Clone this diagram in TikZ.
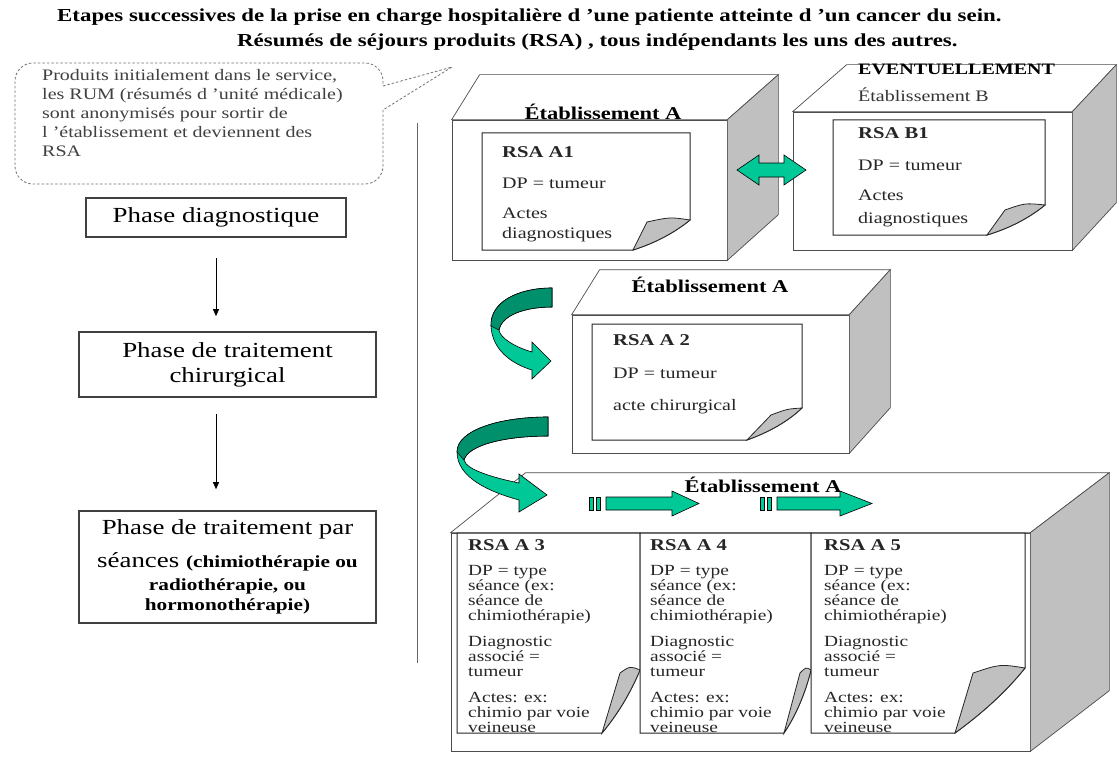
\documentclass[tikz,border=0pt]{standalone}
\usepackage{fontspec}
\setmainfont{Liberation Serif}[FakeStretch=1.25]
\usetikzlibrary{arrows.meta}
\definecolor{vertclair}{RGB}{0,200,150}
\definecolor{vertfonce}{RGB}{0,145,108}
\definecolor{cotegris}{RGB}{192,192,192}
\begin{document}
\begin{tikzpicture}[x=1pt, y=-1pt,
  phase/.style={draw=black!75, line width=1.6pt, align=center, inner sep=0pt, font=\fontsize{21.5}{25}\selectfont},
  face/.style={draw=black!70, line width=0.7pt, fill=white, inner sep=0pt},
  cote/.style={draw=black!70, line width=0.7pt, fill=cotegris},
  page/.style={draw=black!85, line width=1pt, fill=white},
  pli/.style={draw=black!85, line width=0.8pt, fill=cotegris},
  fleche/.style={draw=black, line width=0.6pt, fill=vertclair},
  txt/.style={inner sep=0pt, anchor=north west, align=left, text=black!85},
  etab/.style={inner sep=0pt, font=\fontsize{18}{20}\selectfont\bfseries},
  >={Triangle[width=6pt,length=7pt]}
]
\fill[white] (0,0) rectangle (1119,773);
\useasboundingbox (0,0) rectangle (1119,773);

% titre
\node[inner sep=0pt, anchor=west, font=\fontsize{18.3}{22}\selectfont\bfseries] (titre1) at (57,17) {Etapes successives de la prise en charge hospitalière d ’une patiente atteinte d ’un cancer du sein.};
\node[inner sep=0pt, anchor=west, font=\fontsize{18.3}{22}\selectfont\bfseries] (titre2) at (237,42) {Résumés de séjours produits (RSA) , tous indépendants les uns des autres.};

% bulle
\draw[black!55, line width=0.8pt, dash pattern=on 2.5pt off 2pt, rounded corners=18pt] (383,110) -- (383,184) -- (15,184) -- (15,63) -- (383,63) -- (383,86);
\draw[black!55, line width=0.8pt, dash pattern=on 2.5pt off 2pt] (383,86) -- (452,67) -- (383,110);
\node[txt, text=black!75, font=\fontsize{16}{19}\selectfont] (bulle) at (42,69) {Produits initialement dans le service,\\les RUM (résumés d ’unité médicale)\\sont anonymisés pour sortir de\\l ’établissement et deviennent des\\RSA};

% phases
\node[phase, minimum width=260pt, minimum height=39pt] (phase1) at (216,217.5) {Phase diagnostique};
\node[phase, minimum width=297pt, minimum height=65pt] (phase2) at (227.5,364.5) {Phase de traitement\\chirurgical};
\node[phase, minimum width=297pt, minimum height=112pt] (phase3) at (227.5,567) {Phase de traitement par\\[8pt]séances  {\fontsize{17}{20}\selectfont\bfseries(chimiothérapie ou}\\[-2pt]{\fontsize{17}{20}\selectfont\bfseries radiothérapie, ou}\\[-5pt]{\fontsize{17}{20}\selectfont\bfseries hormonothérapie)}};
\draw[->, line width=0.7pt, shorten <=20pt, shorten >=15pt] (phase1.south) -- (phase1.south |- phase2.north);
\draw[->, line width=0.7pt, shorten <=16pt, shorten >=21pt] (phase1.south |- phase2.south) -- (phase1.south |- phase3.north);

\draw[black!60, line width=0.8pt] (417,123) -- (417,663);

% etablissement A (diagnostic)
\node[face, minimum width=275pt, minimum height=140pt] (etabA1) at (589.5,190) {};
\draw[face] (etabA1.north west) -- ++(28,-45) -- ([xshift=51pt,yshift=45pt]etabA1.north east) -- (etabA1.north east) -- cycle;
\draw[cote] (etabA1.north east) -- ++(51,-45) -- ++(0,140) -- (etabA1.south east) -- cycle;
\node[etab] (labA1) at (603,112) {Établissement A};
\draw[page] (482,133) -- (690,133) -- (690,220) .. controls (674,233) and (655,243) .. (633,250) -- (482,250) -- cycle;
\draw[pli] (690,220) .. controls (674,233) and (655,243) .. (633,250) -- (647,222) .. controls (670,217) .. (690,220) -- cycle;
\node[txt, font=\fontsize{16}{20}\selectfont] (rsaA1) at (502,146.5) {{\fontsize{16.5}{20}\selectfont\bfseries RSA A1}\\[11pt]DP = tumeur\\[10pt]Actes\\diagnostiques};

% etablissement B
\node[face, minimum width=279pt, minimum height=138pt] (etabB) at (932.5,181) {};
\draw[face] (etabB.north west) -- ++(54,-47) -- ([xshift=44pt,yshift=47pt]etabB.north east) -- (etabB.north east) -- cycle;
\draw[cote] (etabB.north east) -- ++(44,-47) -- ++(0,138) -- (etabB.south east) -- cycle;
\node[inner sep=0pt, anchor=west, font=\fontsize{16}{18}\selectfont\bfseries] (eventuel) at (858,69) {EVENTUELLEMENT};
\node[inner sep=0pt, anchor=west, text=black!80, font=\fontsize{16}{18}\selectfont] (labB) at (858,95) {Établissement B};
\draw[page] (833,120) -- (1045,120) -- (1045,205) .. controls (1029,218) and (1010,228) .. (987,235) -- (833,235) -- cycle;
\draw[pli] (1045,205) .. controls (1029,218) and (1010,228) .. (987,235) -- (1005,210) .. controls (1025,203) .. (1045,205) -- cycle;
\node[txt, font=\fontsize{16}{22}\selectfont] (rsaB1) at (858,127.5) {{\fontsize{16.5}{20}\selectfont\bfseries RSA B1}\\[10pt]DP = tumeur\\[8pt]Actes\\[1pt]diagnostiques};

\draw[fleche] (737,170) -- (759,155) -- (759,163) -- (784,163) -- (784,155) -- (806,170) -- (784,185) -- (784,177) -- (759,177) -- (759,185) -- cycle;

% etablissement A (chirurgie)
\node[face, minimum width=277pt, minimum height=138pt] (etabA2) at (710.5,384) {};
\draw[face] (etabA2.north west) -- ++(28,-45) -- ([xshift=41pt,yshift=45pt]etabA2.north east) -- (etabA2.north east) -- cycle;
\draw[cote] (etabA2.north east) -- ++(41,-45) -- ++(0,138) -- (etabA2.south east) -- cycle;
\node[etab] (labA2) at (710,285) {Établissement A};
\draw[page] (592,324) -- (802,324) -- (802,408) .. controls (787,422) and (769,432) .. (747,440) -- (592,440) -- cycle;
\draw[pli] (802,408) .. controls (787,422) and (769,432) .. (747,440) -- (771,415) .. controls (787,409) .. (802,408) -- cycle;
\node[txt, font=\fontsize{16}{22}\selectfont] (rsaA2) at (613,334) {{\fontsize{16.5}{20}\selectfont\bfseries RSA A 2}\\[11pt]DP = tumeur\\[10pt]acte chirurgical};

% etablissement A (seances)
\node[face, minimum width=579pt, minimum height=218pt] (etabA3) at (740.5,642) {};
\draw[face] (etabA3.north west) -- ++(75,-60) -- ([xshift=79pt,yshift=60pt]etabA3.north east) -- (etabA3.north east) -- cycle;
\draw[cote] (etabA3.north east) -- ++(79,-60) -- ++(0,218) -- (etabA3.south east) -- cycle;
\node[etab] (labA3) at (763,485) {Établissement A};
\draw[page] (457,533) -- (640,533) -- (640,670) .. controls (630,694) and (617,715) .. (602,733) -- (457,733) -- cycle;
\draw[pli] (640,670) .. controls (630,694) and (617,715) .. (602,733) -- (620,673) .. controls (630,666) .. (640,670) -- cycle;
\draw[page] (640,533) -- (811,533) -- (811,670) .. controls (805,694) and (796,715) .. (784,733) -- (640,733) -- cycle;
\draw[pli] (811,670) .. controls (805,694) and (796,715) .. (784,733) -- (800,673) .. controls (806,667) .. (811,670) -- cycle;
\draw[page] (811,533) -- (1025,533) -- (1025,668) .. controls (1005,693) and (981,714) .. (955,733) -- (811,733) -- cycle;
\draw[pli] (1025,668) .. controls (1005,693) and (981,714) .. (955,733) -- (973,673) .. controls (1000,664) .. (1025,668) -- cycle;
\node[txt, font=\fontsize{15.5}{15}\selectfont] (rsaA3) at (468,539.5) {{\fontsize{16.5}{20}\selectfont\bfseries RSA A 3}\\[9.5pt]DP = type\\séance (ex:\\séance de\\chimiothérapie)\\[11pt]Diagnostic\\associé =\\tumeur\\[11pt]Actes: ex:\\chimio par voie\\veineuse};
\node[txt, font=\fontsize{15.5}{15}\selectfont] (rsaA4) at (650,539.5) {{\fontsize{16.5}{20}\selectfont\bfseries RSA A 4}\\[9.5pt]DP = type\\séance (ex:\\séance de\\chimiothérapie)\\[11pt]Diagnostic\\associé =\\tumeur\\[11pt]Actes: ex:\\chimio par voie\\veineuse};
\node[txt, font=\fontsize{15.5}{15}\selectfont] (rsaA5) at (824,539.5) {{\fontsize{16.5}{20}\selectfont\bfseries RSA A 5}\\[9.5pt]DP = type\\séance (ex:\\séance de\\chimiothérapie)\\[11pt]Diagnostic\\associé =\\tumeur\\[11pt]Actes: ex:\\chimio par voie\\veineuse};

% fleches rayees
\draw[fleche] (589,497) rectangle (593,510);
\draw[fleche] (596,497) rectangle (600,510);
\draw[fleche] (606,497) -- (672,497) -- (672,491) -- (699,503.5) -- (672,516) -- (672,510) -- (606,510) -- cycle;
\draw[fleche] (760,497) rectangle (764,510);
\draw[fleche] (767,497) rectangle (771,510);
\draw[fleche] (777,497) -- (840,497) -- (840,491) -- (872,503.5) -- (840,516) -- (840,510) -- (777,510) -- cycle;

% fleches courbes
\draw[fleche] (552,288) .. controls (518,288) and (490,302) .. (491,326) .. controls (492,350) and (512,364) .. (532,370) -- (532,379) -- (551,361) -- (532,342) -- (532,352) .. controls (515,347) and (500,338) .. (499,330) .. controls (502,315) and (525,307) .. (552,307) -- cycle;
\draw[fleche, fill=vertfonce] (552,288) .. controls (518,288) and (490,302) .. (491,326) -- (499,330) .. controls (502,315) and (525,307) .. (552,307) -- cycle;
\draw[fleche] (548,417) .. controls (500,417) and (457,430) .. (457,452) .. controls (457,478) and (490,492) .. (519,500) -- (519,512) -- (547,495) -- (519,474) -- (519,483) .. controls (495,478) and (466,470) .. (464,460) .. controls (468,445) and (505,436) .. (548,436) -- cycle;
\draw[fleche, fill=vertfonce] (548,417) .. controls (500,417) and (457,430) .. (457,452) -- (464,460) .. controls (468,445) and (505,436) .. (548,436) -- cycle;
\end{tikzpicture}
\end{document}
